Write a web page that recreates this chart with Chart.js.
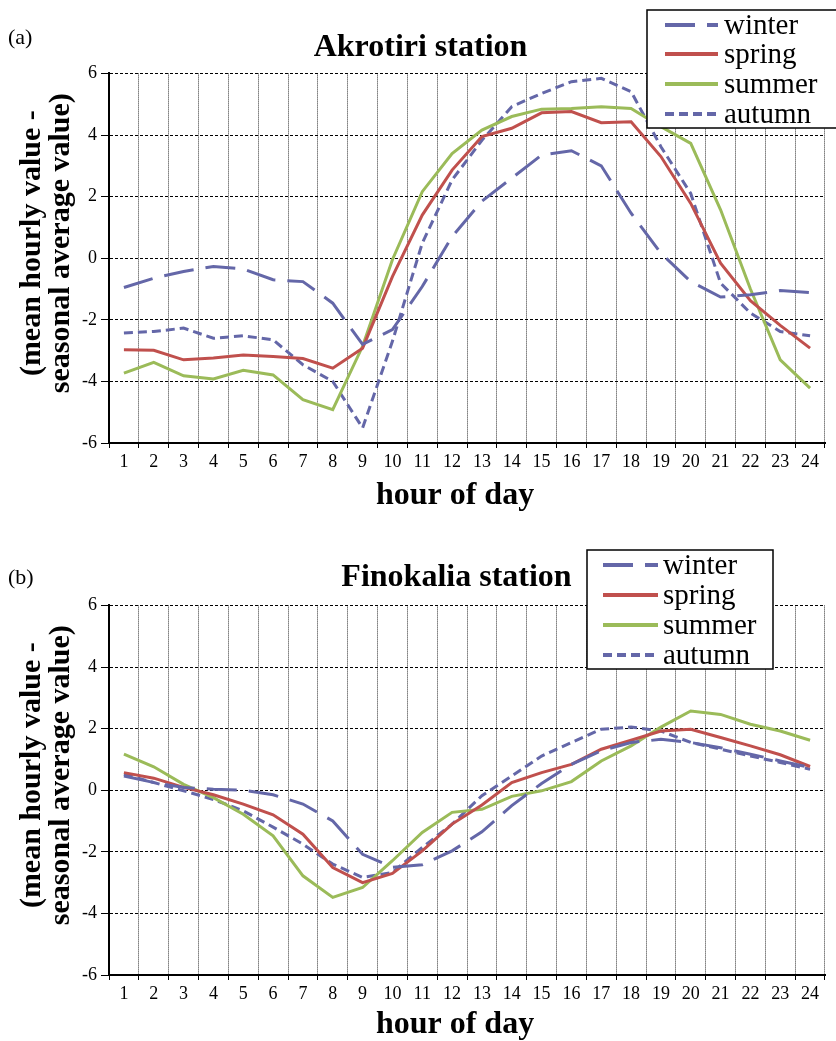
<!DOCTYPE html>
<html>
<head>
<meta charset="utf-8">
<script src="https://cdn.jsdelivr.net/npm/chart.js@4.4.1/dist/chart.umd.min.js"></script>
<style>
  body { margin: 0; background: #fff; }
  .panel { position: relative; width: 836px; }
  .panel canvas { display: block; }
  .tag { position: absolute; left: 8px; font: 22px "Liberation Serif", serif; color: #000; }
</style>
</head>
<body>
<div class="panel" style="height:520px">
  <span class="tag" style="top:24px">(a)</span>
  <canvas id="chartA" width="836" height="520"></canvas>
</div>
<div class="panel" style="height:521px">
  <span class="tag" style="top:44px">(b)</span>
  <canvas id="chartB" width="836" height="521"></canvas>
</div>
<script>
// hours on the x axis
const hours = ['1','2','3','4','5','6','7','8','9','10','11','12','13','14','15','16','17','18','19','20','21','22','23','24'];
const yTicks = [-6, -4, -2, 0, 2, 4, 6];

// (a) Akrotiri station
const winterA = [-0.95, -0.65, -0.43, -0.27, -0.35, -0.7, -0.76, -1.46, -2.8, -2.32, -0.92, 0.7, 1.85, 2.6, 3.35, 3.49, 3.0, 1.46, 0.16, -0.76, -1.26, -1.19, -1.05, -1.12];
const springA = [-2.97, -2.99, -3.3, -3.24, -3.14, -3.19, -3.26, -3.57, -2.92, -0.6, 1.4, 2.86, 3.95, 4.22, 4.72, 4.76, 4.4, 4.43, 3.3, 1.78, -0.16, -1.38, -2.18, -2.92];
const summerA = [-3.73, -3.38, -3.82, -3.92, -3.64, -3.79, -4.59, -4.92, -2.86, -0.05, 2.16, 3.4, 4.16, 4.6, 4.84, 4.86, 4.92, 4.86, 4.27, 3.73, 1.57, -1.0, -3.3, -4.22];
const autumnA = [-2.43, -2.38, -2.27, -2.6, -2.52, -2.65, -3.46, -4.0, -5.51, -2.7, 0.49, 2.54, 3.83, 4.92, 5.35, 5.73, 5.84, 5.41, 3.62, 2.1, -0.81, -1.78, -2.38, -2.52];

// (b) Finokalia station
const winterB = [0.46, 0.25, 0.09, 0.03, 0.0, -0.15, -0.45, -1.0, -2.08, -2.5, -2.42, -1.97, -1.35, -0.5, 0.22, 0.84, 1.28, 1.55, 1.65, 1.55, 1.38, 1.17, 0.95, 0.74];
const springB = [0.57, 0.39, 0.09, -0.15, -0.45, -0.8, -1.43, -2.51, -3.0, -2.7, -1.97, -1.1, -0.48, 0.25, 0.57, 0.84, 1.33, 1.62, 1.92, 1.98, 1.71, 1.44, 1.15, 0.77];
const summerB = [1.17, 0.76, 0.19, -0.24, -0.78, -1.48, -2.78, -3.48, -3.16, -2.29, -1.37, -0.72, -0.62, -0.2, -0.02, 0.28, 0.95, 1.44, 2.05, 2.57, 2.46, 2.14, 1.92, 1.62];
const autumnB = [0.52, 0.25, -0.02, -0.3, -0.67, -1.2, -1.75, -2.4, -2.83, -2.67, -1.86, -1.1, -0.18, 0.46, 1.11, 1.55, 1.98, 2.05, 1.92, 1.55, 1.33, 1.11, 0.9, 0.68];

const BLUE = '#6467a8';
const RED = '#c0504d';
const GREEN = '#9bbb59';
const SERIF = '"Liberation Serif", "Times New Roman", serif';

Chart.defaults.font.family = SERIF;
Chart.defaults.color = '#000';

function seasonSets(w, sp, su, au) {
  return [
    { label: 'winter', data: w, borderColor: BLUE, borderDash: [30, 12] },
    { label: 'spring', data: sp, borderColor: RED },
    { label: 'summer', data: su, borderColor: GREEN },
    { label: 'autumn', data: au, borderColor: BLUE, borderDash: [9, 5] }
  ].map(d => Object.assign({ borderWidth: 3, pointRadius: 0, fill: false, tension: 0 }, d));
}

// boxed legend drawn over the plot, like the original figure
const boxLegend = {
  id: 'boxLegend',
  afterDraw(chart, args, opts) {
    const ctx = chart.ctx;
    ctx.save();
    ctx.fillStyle = '#fff';
    ctx.fillRect(opts.x, opts.y, opts.w, opts.h);
    ctx.strokeStyle = '#000';
    ctx.lineWidth = 1.5;
    ctx.strokeRect(opts.x, opts.y, opts.w, opts.h);
    chart.data.datasets.forEach((ds, i) => {
      const y = opts.rows[i];
      ctx.strokeStyle = ds.borderColor;
      ctx.lineWidth = 4;
      ctx.setLineDash(ds.borderDash || []);
      ctx.beginPath();
      ctx.moveTo(opts.lineX, y);
      ctx.lineTo(opts.lineX + opts.lineW, y);
      ctx.stroke();
      ctx.setLineDash([]);
      ctx.fillStyle = '#000';
      ctx.font = '29px ' + SERIF;
      ctx.textBaseline = 'middle';
      ctx.fillText(ds.label, opts.textX, y + 1);
    });
    ctx.restore();
  }
};

function makeChart(id, titleText, sets, cfg) {
  return new Chart(document.getElementById(id), {
    type: 'line',
    data: { labels: hours, datasets: sets },
    plugins: [boxLegend],
    options: {
      responsive: false,
      animation: false,
      layout: { padding: { left: 16, right: 11, top: 0, bottom: 0 } },
      plugins: {
        legend: { display: false },
        tooltip: { enabled: false },
        title: {
          display: true,
          text: titleText,
          font: { size: 32, weight: 'bold', lineHeight: 1.2 },
          padding: cfg.titlePad
        },
        boxLegend: cfg.legend
      },
      scales: {
        x: {
          type: 'category',
          offset: true,
          grid: { offset: true, color: '#333', lineWidth: 1, tickLength: 5, tickColor: '#000' },
          border: { display: true, color: '#000', width: 2, dash: [1, 1] },
          ticks: { font: { size: 18 }, padding: 3, maxRotation: 0, autoSkip: false },
          title: {
            display: true,
            text: 'hour of day   ',
            font: { size: 32, weight: 'bold', lineHeight: 1 },
            padding: { top: 0, bottom: cfg.xTitlePad }
          },
          afterFit(scale) { scale.height = cfg.xHeight; }
        },
        y: {
          min: -6,
          max: 6,
          afterBuildTicks(scale) { scale.ticks = yTicks.map(v => ({ value: v })); },
          grid: { color: '#000', lineWidth: 1, tickLength: 8, tickColor: '#000' },
          border: { display: true, color: '#000', width: 2, dash: [3, 2] },
          ticks: { font: { size: 18 }, padding: 4 },
          title: {
            display: true,
            text: ['    (mean hourly value -', '    seasonal average value)'],
            font: { size: 30, weight: 'bold', lineHeight: 0.97 },
            padding: { top: 2, bottom: 0 }
          },
          afterFit(scale) { scale.width = 93; }
        }
      }
    }
  });
}

makeChart('chartA', 'Akrotiri station', seasonSets(winterA, springA, summerA, autumnA), {
  titlePad: { top: 29, bottom: 6 },
  xHeight: 77,
  xTitlePad: 8,
  legend: { x: 647, y: 10, w: 200, h: 118, rows: [25, 54, 84, 114], lineX: 665, lineW: 53, textX: 724 }
});

makeChart('chartB', '         Finokalia station', seasonSets(winterB, springB, summerB, autumnB), {
  titlePad: { top: 39, bottom: 8 },
  xHeight: 66,
  xTitlePad: 0,
  legend: { x: 587, y: 30, w: 186, h: 119, rows: [45, 75, 105, 135], lineX: 603, lineW: 55, textX: 663 }
});
</script>
</body>
</html>
